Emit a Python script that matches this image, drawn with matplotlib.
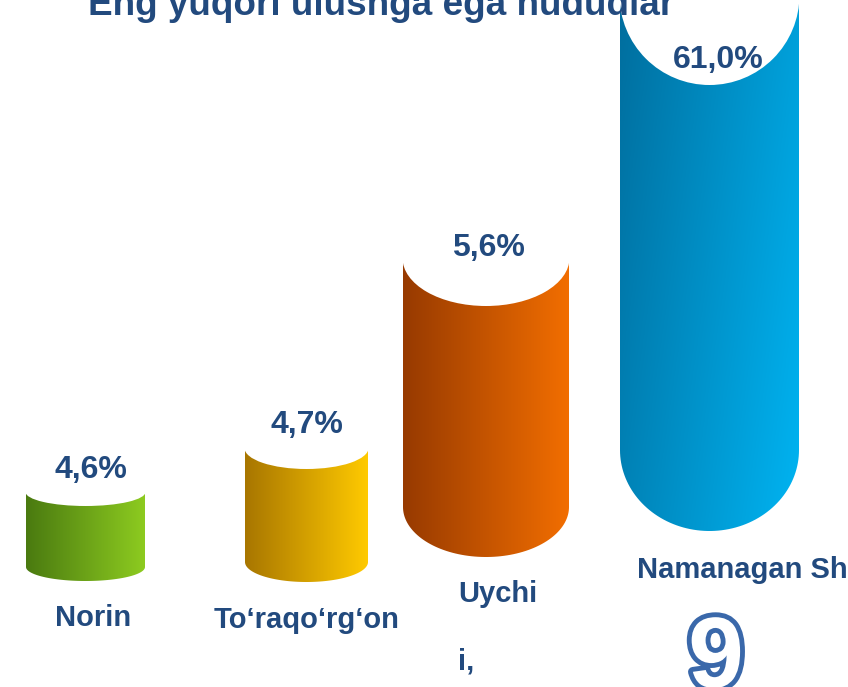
import numpy as np
import matplotlib
matplotlib.use("Agg")
import matplotlib.pyplot as plt
from matplotlib.patches import Polygon, Ellipse
from matplotlib.colors import LinearSegmentedColormap
import matplotlib.patheffects as pe

plt.rcParams['font.family'] = ['Liberation Sans', 'DejaVu Sans']

# data
regions = ["Norin", "To\u2018raqo\u2018rg\u2018on", "Uychi\ni,", "Namanagan Sh"]
shares = [4.6, 4.7, 5.6, 61.0]
title = "Eng yuqori ulushga ega hududlar"
page = "9"

# cylinder colours (dark side, light side)
col_dark = ["#4a7a10", "#a87600", "#973a00", "#006e9e"]
col_light = ["#8dcb20", "#ffca00", "#f26e00", "#00b4f2"]

# layout in pixel coords (slide drawing, not to scale)
xc = [85.5, 306.5, 486, 709.5]
wid = [119, 123, 166, 179]
ytop = [492, 448, 258, -5]
ybot = [567, 562, 507, 450]
etop = [14, 21, 48, 90]
ebot = [14, 20, 50, 81]
val_pos = [(91, 470), (307, 425), (488, 248), (718, 60)]
lab_pos = [(93, 618, 'center'), (307, 620, 'center'), (458, 580, 'left'), (637, 570, 'left')]

navy = "#224a7e"

fig = plt.figure(figsize=(8.48, 6.87), dpi=100)
ax = fig.add_axes([0, 0, 1, 1])
ax.axis('off')


def cylinder(i):
    x0 = xc[i] - wid[i] / 2
    x1 = xc[i] + wid[i] / 2
    t = np.linspace(0, np.pi, 80)
    arc = np.column_stack([xc[i] + wid[i] / 2 * np.cos(t), ybot[i] + ebot[i] * np.sin(t)])
    verts = np.vstack([[[x0, ytop[i]], [x1, ytop[i]]], arc])
    poly = Polygon(verts, closed=True, facecolor='none', edgecolor='none')
    ax.add_patch(poly)
    cmap = LinearSegmentedColormap.from_list("c%d" % i, [col_dark[i], col_light[i]])
    gx = np.linspace(0, 1, 256)
    if i == 3:
        gy = np.linspace(0, 1, 256)
        grid = 0.8 * gx[None, :] + 0.35 * gy[:, None]
        grid = grid / grid.max()
    else:
        grid = np.tile(gx, (4, 1))
    im = ax.imshow(grid, extent=[x0, x1, ybot[i] + ebot[i], ytop[i]], cmap=cmap,
                   aspect='auto', origin='upper', interpolation='bilinear', zorder=1)
    im.set_clip_path(poly)
    ax.add_patch(Ellipse((xc[i], ytop[i]), wid[i] + 1, 2 * etop[i], facecolor='white',
                         edgecolor='none', zorder=2))


for i in range(len(shares)):
    cylinder(i)
    vx, vy = val_pos[i]
    ax.text(vx, vy, ("%.1f" % shares[i]).replace('.', ',') + "%", ha='center', va='center',
            fontsize=23, fontweight='bold', color=navy, zorder=4)
    lx, ly, ha = lab_pos[i]
    ax.text(lx, ly, regions[i], ha=ha, va='top' if i == 2 else 'center', fontsize=21,
            fontweight='bold', color=navy, linespacing=2.78, zorder=4)

ax.text(88, 15, title, ha='left', va='baseline', fontsize=26.6, fontweight='bold',
        color=navy, zorder=5)

ax.text(716, 661, page, ha='center', va='center', fontsize=72, fontweight='bold',
        color='white', zorder=5,
        path_effects=[pe.Stroke(linewidth=7, foreground="#3a68aa"), pe.Normal()])

ax.set_xlim(0, 848)
ax.set_ylim(687, 0)

fig.savefig("out.png", dpi=100, facecolor='white')
